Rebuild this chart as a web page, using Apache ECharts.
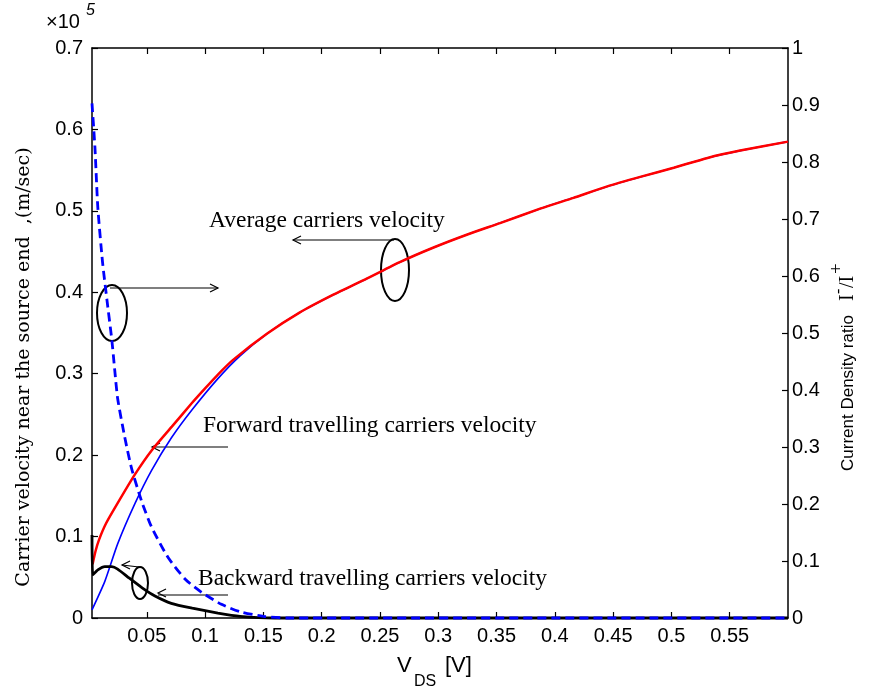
<!DOCTYPE html>
<html>
<head>
<meta charset="utf-8">
<script src="https://cdn.jsdelivr.net/npm/echarts@6/dist/echarts.min.js"></script>
<style>
html,body{margin:0;padding:0;background:#fff;}
#chart{width:871px;height:690px;}
</style>
</head>
<body>
<div id="chart"></div>
<script>
// ---- data ----
const xTickValues = [0.05,0.1,0.15,0.2,0.25,0.3,0.35,0.4,0.45,0.5,0.55];
const xTickLabels = ['0.05','0.1','0.15','0.2','0.25','0.3','0.35','0.4','0.45','0.5','0.55'];
const leftTickLabels = ['0','0.1','0.2','0.3','0.4','0.5','0.6','0.7'];
const rightTickLabels = ['0','0.1','0.2','0.3','0.4','0.5','0.6','0.7','0.8','0.9','1'];

// Average carriers velocity (x10^5 m/s), left axis
const averageVelocity = [
  [0.0035,0.066],[0.006,0.082],[0.009,0.096],[0.015,0.116],[0.025,0.141],[0.0397,0.176],
  [0.0543,0.206],[0.0715,0.235],[0.0887,0.264],[0.1,0.282],[0.111,0.299],[0.124,0.317],
  [0.153,0.349],[0.181,0.375],[0.210,0.397],[0.239,0.417],[0.267,0.437],[0.296,0.455],
  [0.325,0.471],[0.353,0.485],[0.388,0.503],[0.416,0.516],[0.445,0.530],[0.474,0.542],
  [0.502,0.553],[0.531,0.565],[0.559,0.574],[0.6,0.585]
];
// Forward travelling carriers velocity, left axis
const forwardVelocity = [
  [0.003,0.010],[0.014,0.045],[0.025,0.091],[0.04,0.141],[0.054,0.181],[0.071,0.221],
  [0.089,0.256],[0.111,0.294],[0.13,0.322],[0.153,0.349],[0.181,0.375],[0.210,0.397],
  [0.239,0.417],[0.267,0.437],[0.296,0.455],[0.325,0.471],[0.353,0.485],[0.388,0.503],
  [0.416,0.516],[0.445,0.530],[0.474,0.542],[0.502,0.553],[0.531,0.565],[0.559,0.574],[0.6,0.585]
];
// Backward travelling carriers velocity, left axis
const backwardVelocity = [
  [0.003,0.102],[0.0036,0.053],[0.008,0.059],[0.014,0.063],[0.02,0.063],[0.025,0.060],
  [0.034,0.050],[0.046,0.037],[0.057,0.027],[0.071,0.018],[0.089,0.012],[0.111,0.006],
  [0.13,0.002],[0.16,0],[0.6,0]
];
// Current density ratio I-/I+, right axis
const densityRatio = [
  [0.003,0.903],[0.0055,0.826],[0.008,0.72],[0.012,0.625],[0.016,0.555],[0.02,0.488],
  [0.0225,0.435],[0.025,0.385],[0.031,0.318],[0.037,0.262],[0.0457,0.204],[0.054,0.160],
  [0.068,0.107],[0.083,0.068],[0.097,0.045],[0.114,0.024],[0.13,0.011],[0.15,0.003],
  [0.17,0],[0.6,0]
];

const chart = echarts.init(document.getElementById('chart'), null, {renderer:'canvas'});
const axisLineStyle = {color:'#000', width:1.5};
const tickFont = {color:'#000', fontSize:20, fontFamily:'Liberation Sans'};

const option = {
  animation:false,
  backgroundColor:'#fff',
  grid:{left:92, top:48, right:83, bottom:72, containLabel:false},
  xAxis:[
    {type:'value', min:0.003, max:0.6, position:'bottom', z:0,
     axisLine:{show:true, onZero:false, lineStyle:axisLineStyle},
     axisTick:{show:true, inside:true, length:6, lineStyle:{color:'#000', width:1.2}, customValues:xTickValues},
     axisLabel:Object.assign({customValues:xTickValues, margin:8,
       formatter:(v)=>{const i=xTickValues.findIndex(t=>Math.abs(t-v)<1e-9);return i>=0?xTickLabels[i]:'';}}, tickFont),
     splitLine:{show:false}},
    {type:'value', min:0.003, max:0.6, position:'top', z:0,
     axisLine:{show:true, onZero:false, lineStyle:axisLineStyle},
     axisTick:{show:true, inside:true, length:6, lineStyle:{color:'#000', width:1.2}, customValues:xTickValues},
     axisLabel:{show:false}, splitLine:{show:false}}
  ],
  yAxis:[
    {type:'value', min:0, max:0.7, interval:0.1, position:'left', z:0,
     axisLine:{show:true, onZero:false, lineStyle:axisLineStyle},
     axisTick:{show:true, inside:true, length:6, lineStyle:{color:'#000', width:1.2}},
     axisLabel:Object.assign({margin:9, formatter:(v)=>leftTickLabels[Math.round(v*10)]}, tickFont),
     splitLine:{show:false}},
    {type:'value', min:0, max:1, interval:0.1, position:'right', z:0,
     axisLine:{show:true, onZero:false, lineStyle:axisLineStyle},
     axisTick:{show:true, inside:true, length:6, lineStyle:{color:'#000', width:1.2}},
     axisLabel:Object.assign({margin:4, formatter:(v)=>rightTickLabels[Math.round(v*10)]}, tickFont),
     splitLine:{show:false}}
  ],
  series:[
    {name:'Forward travelling carriers velocity', type:'line', xAxisIndex:0, yAxisIndex:0,
     data:forwardVelocity, showSymbol:false, smooth:0.2, clip:false, z:3,
     lineStyle:{color:'#0000ff', width:1.6}},
    {name:'Average carriers velocity', type:'line', xAxisIndex:0, yAxisIndex:0,
     data:averageVelocity, showSymbol:false, smooth:0.2, clip:false, z:4,
     lineStyle:{color:'#ff0000', width:2.5}},
    {name:'Backward travelling carriers velocity', type:'line', xAxisIndex:0, yAxisIndex:0,
     data:backwardVelocity, showSymbol:false, smooth:0.15, clip:false, z:5,
     lineStyle:{color:'#000000', width:2.8}},
    {name:'Current Density ratio', type:'line', xAxisIndex:0, yAxisIndex:1,
     data:densityRatio, showSymbol:false, smooth:0.2, clip:false, z:8,
     lineStyle:{color:'#0000ff', width:2.8, type:[9,5]}}
  ]
};
chart.setOption(option);

// ---- annotations ----
const serif = 'Liberation Serif';
const blk = {stroke:'#000', lineWidth:2, fill:'none'};
const thin = {stroke:'#000', lineWidth:1.2, fill:'none'};
function arrowLeft(x,y){return {type:'polyline', shape:{points:[[x+8,y-4],[x,y],[x+8,y+4]]}, style:thin};}
function arrowRight(x,y){return {type:'polyline', shape:{points:[[x-8,y-4],[x,y],[x-8,y+4]]}, style:thin};}
const g = [
  // x10^5
  {type:'text', left:46, top:12, style:{text:'\u00d710', font:'20px Liberation Sans', fill:'#000'}},
  {type:'text', left:86, top:3, style:{text:'5', font:'italic 16px Liberation Sans', fill:'#000'}},
  // left axis title
  {type:'text', x:24, y:367, rotation:Math.PI/2,
   style:{text:'Carrier velocity near the source end  ,(m/sec)', font:'19px DejaVu Serif', fill:'#000', align:'center', verticalAlign:'middle'}},
  // right axis title
  {type:'group', x:848, y:471, rotation:Math.PI/2, children:[
    {type:'text', x:0, y:0, style:{text:'Current Density ratio', font:'17px Liberation Sans', fill:'#000', align:'left', verticalAlign:'middle'}},
    {type:'text', x:170, y:0, style:{text:'I', font:'20px Liberation Serif', fill:'#000', align:'left', verticalAlign:'middle'}},
    {type:'text', x:177, y:-9, style:{text:'-', font:'16px Liberation Serif', fill:'#000', align:'left', verticalAlign:'middle'}},
    {type:'text', x:183, y:0, style:{text:'/I', font:'20px Liberation Serif', fill:'#000', align:'left', verticalAlign:'middle'}},
    {type:'text', x:197, y:-11, style:{text:'+', font:'19px Liberation Serif', fill:'#000', align:'left', verticalAlign:'middle'}}
  ]},
  // x axis title
  {type:'text', left:397, top:655, style:{text:'V', font:'22px Liberation Sans', fill:'#000'}},
  {type:'text', left:414, top:674, style:{text:'DS', font:'16px Liberation Sans', fill:'#000'}},
  {type:'text', left:445, top:655, style:{text:'[V]', font:'22px Liberation Sans', fill:'#000'}},
  // annotation: current density ellipse
  {type:'ellipse', shape:{cx:112, cy:313, rx:15, ry:28}, style:blk},
  {type:'line', shape:{x1:110, y1:288, x2:218, y2:288}, style:thin},
  arrowRight(218,288),
  // annotation: average
  {type:'ellipse', shape:{cx:395, cy:270, rx:14, ry:31}, style:blk},
  {type:'line', shape:{x1:293, y1:240, x2:394, y2:240}, style:thin},
  arrowLeft(293,240),
  {type:'text', left:209, top:209, style:{text:'Average carriers velocity', font:'23.5px '+serif, fill:'#000'}},
  // annotation: forward
  {type:'line', shape:{x1:152, y1:447, x2:228, y2:447}, style:thin},
  arrowLeft(152,447),
  {type:'text', left:203, top:414, style:{text:'Forward travelling carriers velocity', font:'23.5px '+serif, fill:'#000'}},
  // annotation: backward
  {type:'ellipse', shape:{cx:140, cy:583, rx:8, ry:16}, style:blk},
  {type:'line', shape:{x1:122, y1:565, x2:139, y2:567}, style:thin},
  arrowLeft(122,565),
  {type:'line', shape:{x1:158, y1:595, x2:228, y2:595}, style:thin},
  arrowLeft(158,593),
  {type:'text', left:198, top:567, style:{text:'Backward travelling carriers velocity', font:'23.5px '+serif, fill:'#000'}}
];
chart.setOption({graphic:g});
</script>
</body>
</html>
